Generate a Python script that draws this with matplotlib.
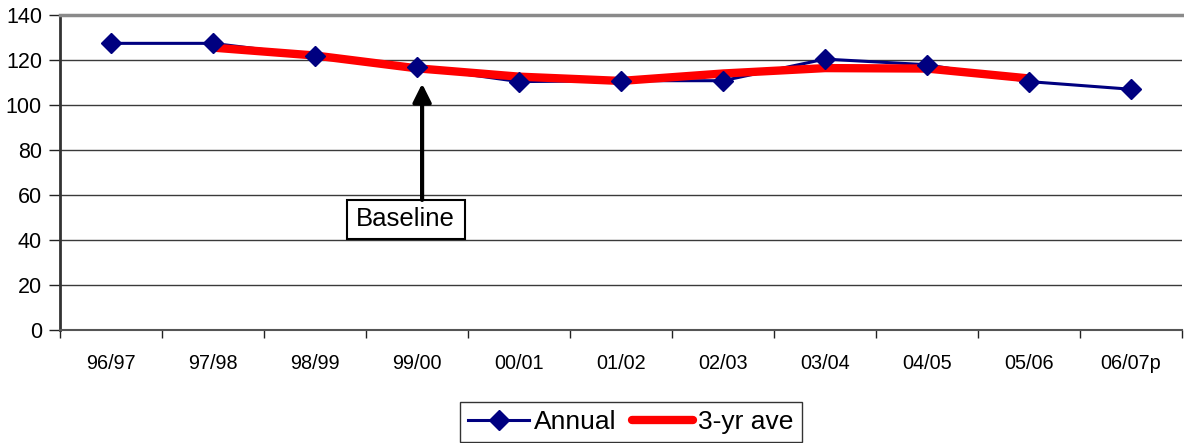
import matplotlib
matplotlib.use("Agg")
import matplotlib.pyplot as plt
from matplotlib.lines import Line2D
from matplotlib.patches import Rectangle
import numpy as np

categories = ["96/97", "97/98", "98/99", "99/00", "00/01", "01/02",
              "02/03", "03/04", "04/05", "05/06", "06/07p"]
annual = [127.4, 127.4, 121.8, 116.7, 110.4, 110.8, 110.8, 120.4, 117.9, 110.4, 107.0]
ave3_categories = ["97/98", "98/99", "99/00", "00/01", "01/02", "02/03",
                   "03/04", "04/05", "05/06"]
ave3 = [125.5, 122.0, 116.3, 112.6, 110.7, 114.0, 116.4, 116.2, 111.8]
yticks = [0, 20, 40, 60, 80, 100, 120, 140]

plt.rcParams['font.family'] = ['Liberation Sans', 'DejaVu Sans']

W, H = 1184, 443
fig = plt.figure(figsize=(W / 100, H / 100), dpi=100)
ax = fig.add_axes([60 / W, 1 - 330 / H, 1122 / W, 315 / H])

x = np.arange(len(categories))
xa = [categories.index(c) for c in ave3_categories]

navy = "#000080"
ax.plot(x, annual, color=navy, lw=2.2, zorder=3)
ax.plot(xa, ave3, color="#FF0000", lw=6, zorder=4, solid_capstyle='butt')
ax.plot(x, annual, ls='none', marker='D', markersize=10.5, color=navy, zorder=5)

ax.set_xlim(-0.5, len(categories) - 0.5)
ax.set_ylim(0, 140)
ax.set_yticks(yticks)
ax.set_yticklabels([str(v) for v in yticks], fontsize=15.5)
ax.set_xticks(x)
ax.set_xticklabels(categories, fontsize=14.3)
ax.set_xticks(np.arange(-0.5, len(categories), 1.0), minor=True)
ax.tick_params(axis='x', which='major', length=0, pad=17)
ax.tick_params(axis='x', which='minor', length=6, width=1, color='#222222')
ax.tick_params(axis='y', length=8, width=1, pad=5, color='#222222')

for v in yticks[1:-1]:
    ax.axhline(v, color='#3a3a3a', lw=1, zorder=1)

ax.spines['left'].set_linewidth(2)
ax.spines['left'].set_color('#333333')
ax.spines['bottom'].set_linewidth(1.5)
ax.spines['bottom'].set_color('#555555')
ax.spines['top'].set_linewidth(2.5)
ax.spines['top'].set_color('#8a8a8a')
ax.spines['right'].set_visible(False)

# Baseline callout
ax.add_patch(Rectangle((2.314, 40.4), 1.157, 17.4, fc='white', ec='black',
                       lw=1.5, zorder=6))
ax.text(2.89, 49.3, "Baseline", fontsize=18.5, ha='center', va='center', zorder=7)
ax.annotate("", xy=(3.05, 109.5), xytext=(3.05, 57.8),
            arrowprops=dict(arrowstyle='-|>,head_length=1.1,head_width=0.55',
                            color='black', lw=3, shrinkA=0, shrinkB=0),
            zorder=6)

handles = [Line2D([], [], color=navy, lw=2.2, marker='D', markersize=10.5),
           Line2D([], [], color='#FF0000', lw=6, solid_capstyle='round')]
leg = fig.legend(handles, ["Annual", "3-yr ave"], loc='center',
                 bbox_to_anchor=(631 / W, 1 - 422 / H), ncol=2, fontsize=19,
                 frameon=True, fancybox=False, handlelength=2.3,
                 handletextpad=0.2, columnspacing=0.6, borderpad=0.3,
                 borderaxespad=0)
leg.get_frame().set_edgecolor('black')
leg.get_frame().set_linewidth(1)

fig.savefig("out.png", dpi=100)
